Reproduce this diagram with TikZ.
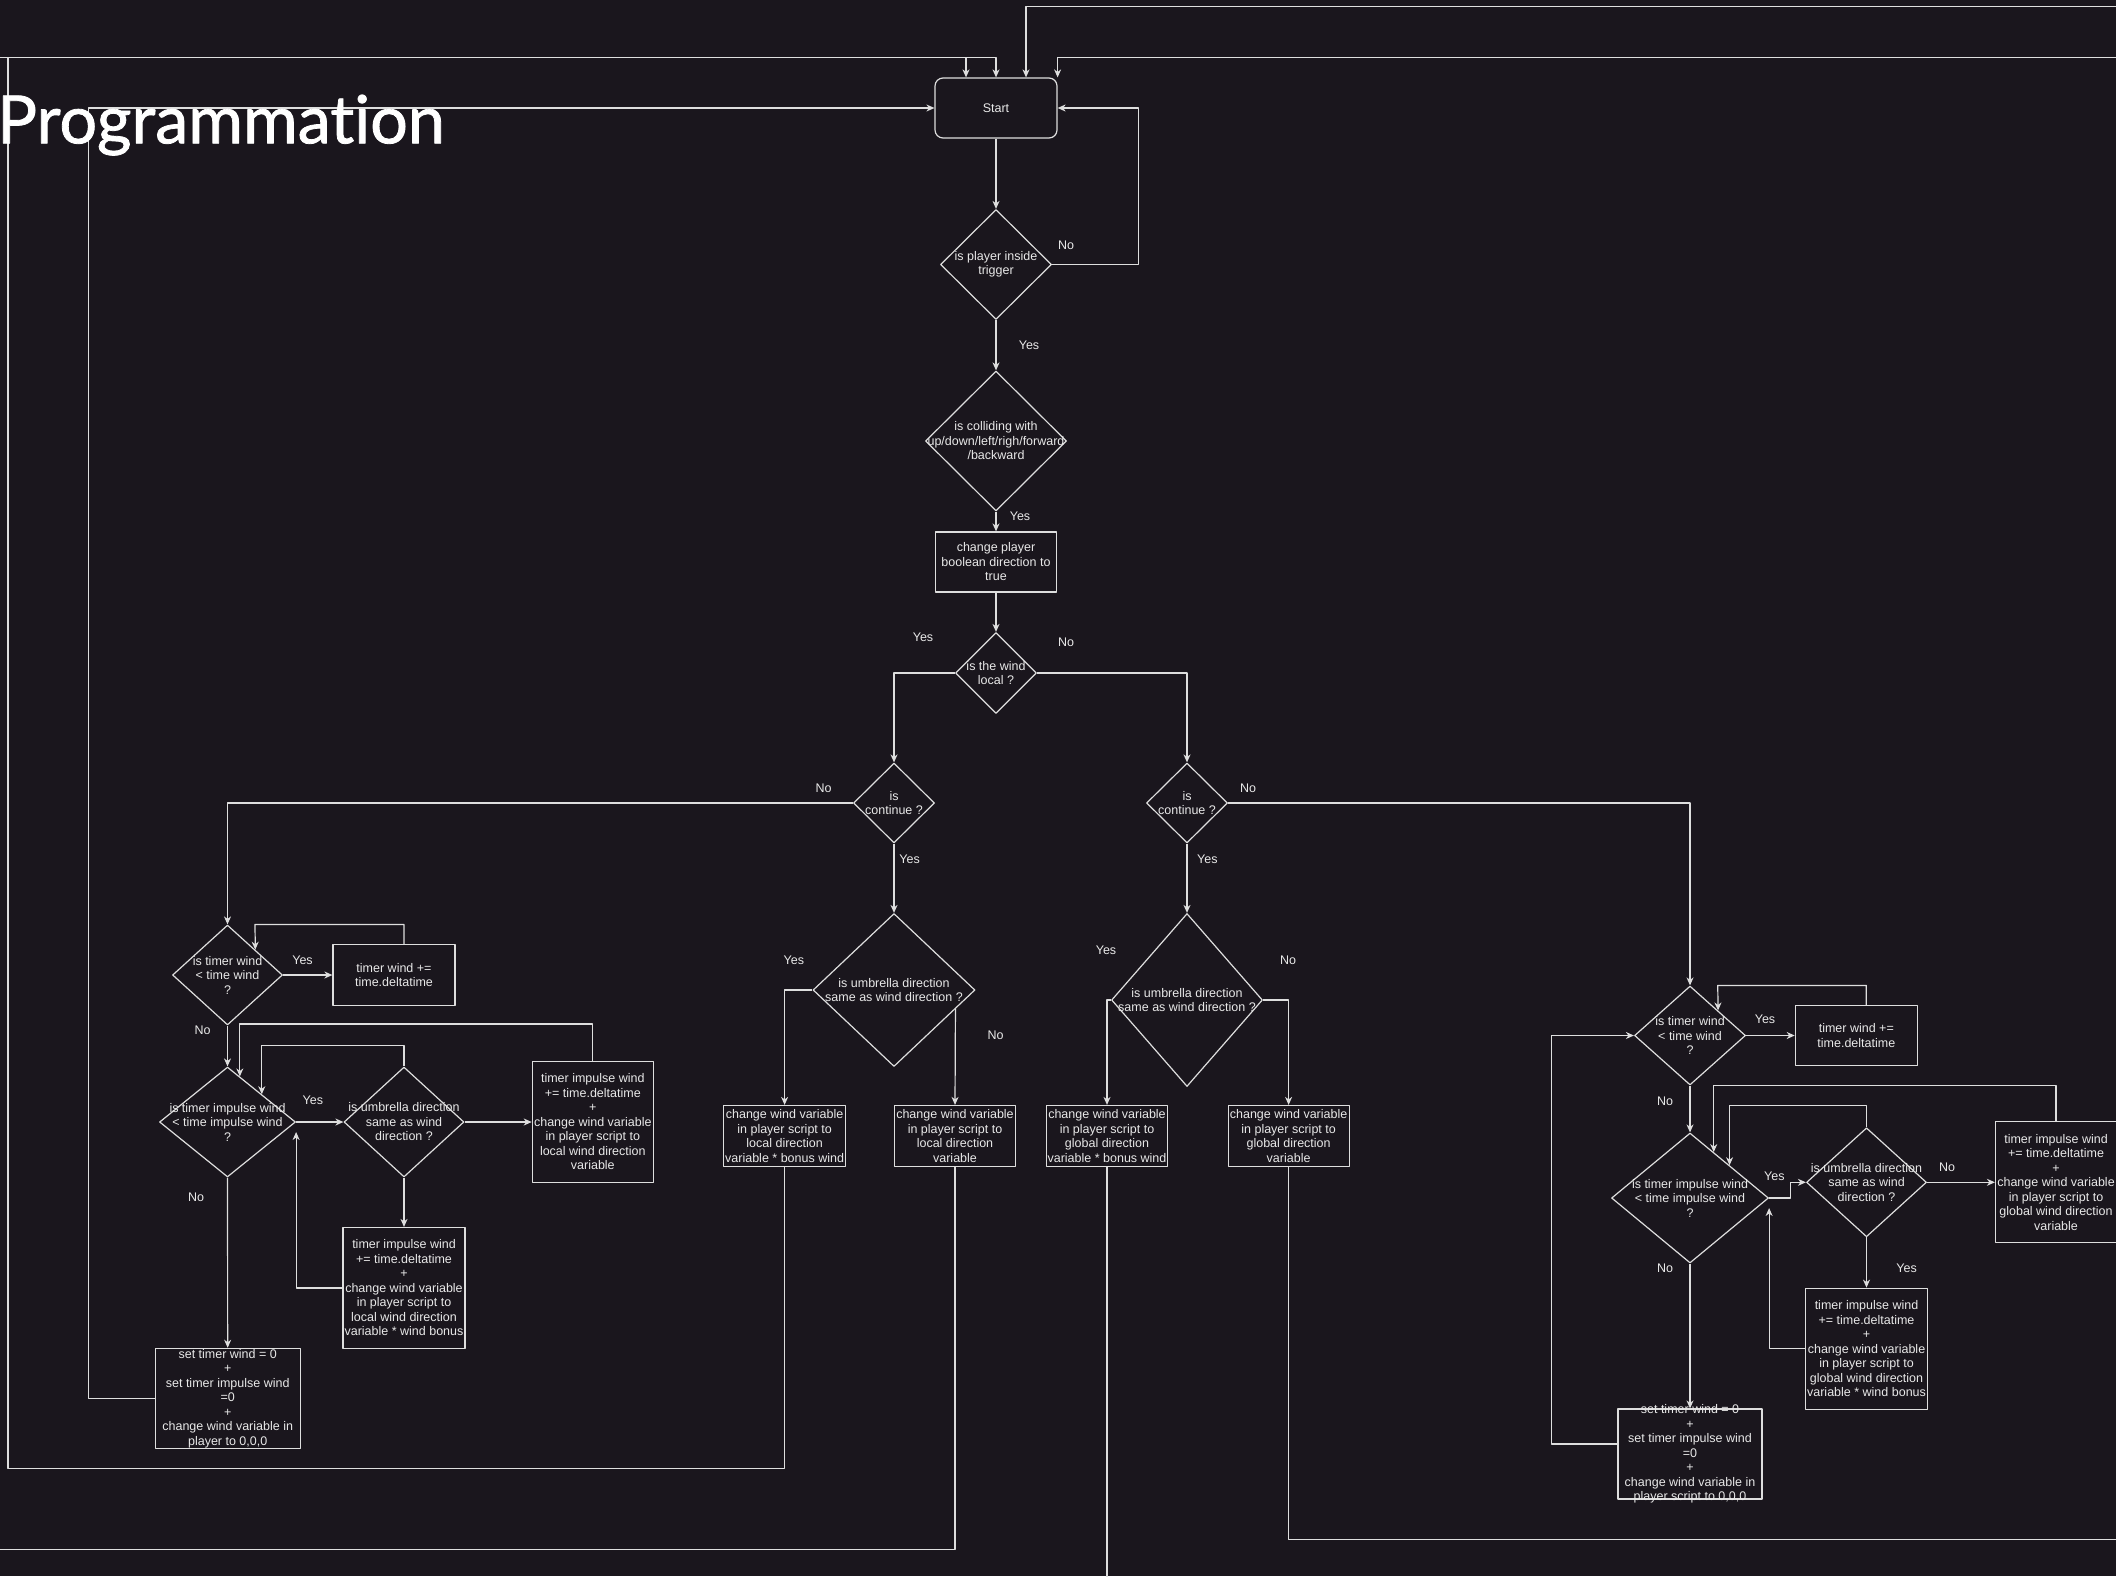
\documentclass[tikz,border=0pt]{standalone}
\usepackage{fontspec}
\setmainfont{Liberation Sans}
\newfontfamily\titlefont[Ligatures=NoCommon,FakeBold=1.2]{Lato}
\usetikzlibrary{shapes.geometric,arrows.meta,calc}
\definecolor{bgcol}{RGB}{26,22,29}
\definecolor{linecol}{RGB}{222,222,222}
\definecolor{txtcol}{RGB}{232,232,232}
\begin{document}
\begin{tikzpicture}[x=1pt,y=-1pt,line join=round,font=\fontsize{12.5}{14.5}\selectfont,text=txtcol,
  every node/.style={inner sep=0pt},
  box/.style={draw=linecol,line width=1.2pt,align=center,minimum width=121pt,minimum height=61pt},
  cond/.style={draw=linecol,line width=1.2pt,diamond},
  inside/.style={align=center,text=txtcol},
  arr/.style={draw=linecol,line width=1.2pt,-{Stealth[length=8pt,width=7pt,inset=2.5pt]}}]
\fill[bgcol](0,0) rectangle(2116,1576);
\useasboundingbox(0,0) rectangle(2116,1576);
\clip(0,0) rectangle(2116,1576);

% main column
\node[box,rounded corners=8pt,minimum width=122pt,minimum height=60pt] (start) at (996,108) {Start};
\node[cond,minimum width=111pt,minimum height=110pt,label={[inside]center:{is player inside\\trigger}}] (trigger) at (996,264.5) {};
\node[cond,minimum width=141pt,minimum height=140pt,label={[inside]center:{is colliding with\\up/down/left/righ/forward\\/backward}}] (colliding) at (996,441) {};
\node[box,minimum height=60pt] (dirtrue) at (996,562) {change player\\boolean direction to\\true};
\node[cond,minimum width=81pt,minimum height=81pt,label={[inside]center:{is the wind\\local ?}}] (windlocal) at (996,673) {};
\node[cond,minimum width=81pt,minimum height=80pt,label={[inside]center:{is\\continue ?}}] (contL) at (894,803) {};
\node[cond,minimum width=81pt,minimum height=80pt,label={[inside]center:{is\\continue ?}}] (contR) at (1187,803) {};
\node[cond,minimum width=162pt,minimum height=153pt,label={[inside]center:{is umbrella direction\\same as wind direction ?}}] (umbL) at (894,990) {};
\node[cond,minimum width=151pt,minimum height=173pt,label={[inside]center:{is umbrella direction\\same as wind direction ?}}] (umbR) at (1187,1000) {};
\node[box,minimum width=122pt] (bonusL) at (784.6,1136) {change wind variable\\in player script to\\local direction\\variable * bonus wind};
\node[box] (plainL) at (955,1136) {change wind variable\\in player script to\\local direction\\variable};
\node[box] (bonusR) at (1107,1136) {change wind variable\\in player script to\\global direction\\variable * bonus wind};
\node[box] (plainR) at (1288.6,1136) {change wind variable\\in player script to\\global direction\\variable};

% left timers
\node[cond,minimum width=110pt,minimum height=100pt,label={[inside]center:{is timer wind\\< time wind\\?}}] (timerL) at (227.5,975) {};
\node[box,minimum width=122pt] (incL) at (394,975) {timer wind +=\\time.deltatime};
\node[cond,minimum width=136pt,minimum height=110pt,label={[inside]center:{is timer impulse wind\\< time impulse wind\\?}}] (impulseL) at (227.5,1122) {};
\node[cond,minimum width=120pt,minimum height=110pt,label={[inside]center:{is umbrella direction\\same as wind\\direction ?}}] (sameL) at (404,1122) {};
\node[box,minimum height=121pt] (impL) at (592.8,1122) {timer impulse wind\\+= time.deltatime\\+\\change wind variable\\in player script to\\local wind direction\\variable};
\node[box,minimum width=122pt,minimum height=121pt] (impLbonus) at (404,1288) {timer impulse wind\\+= time.deltatime\\+\\change wind variable\\in player script to\\local wind direction\\variable * wind bonus};
\node[box,minimum width=145pt,minimum height=100pt,label={[inside]center:{set timer wind = 0\\+\\set timer impulse wind\\=0\\+\\change wind variable in\\player to 0,0,0}}] (resetL) at (227.7,1398.3) {};

% right timers
\node[cond,minimum width=111pt,minimum height=99pt,label={[inside]center:{is timer wind\\< time wind\\?}}] (timerR) at (1690,1035.5) {};
\node[box,minimum width=122pt,minimum height=60pt] (incR) at (1856.3,1035.5) {timer wind +=\\time.deltatime};
\node[cond,minimum width=157pt,minimum height=130pt,label={[inside]center:{is timer impulse wind\\< time impulse wind\\?}}] (impulseR) at (1690,1198) {};
\node[cond,minimum width=120pt,minimum height=109pt,label={[inside]center:{is umbrella direction\\same as wind\\direction ?}}] (sameR) at (1866.5,1182.3) {};
\node[box,minimum height=121pt] (impR) at (2056,1182.3) {timer impulse wind\\+= time.deltatime\\+\\change wind variable\\in player script to\\global wind direction\\variable};
\node[box,minimum width=122pt,minimum height=121pt] (impRbonus) at (1866.5,1348.7) {timer impulse wind\\+= time.deltatime\\+\\change wind variable\\in player script to\\global wind direction\\variable * wind bonus};
\node[box,minimum width=144pt,minimum height=90pt,label={[inside]center:{set timer wind = 0\\+\\set timer impulse wind\\=0\\+\\change wind variable in\\player script to 0,0,0}}] (resetR) at (1690,1454) {};

% yes / no
\node (y1) at (1029,345) {Yes};
\node (y2) at (1020,516) {Yes};
\node (y3) at (923,637.5) {Yes};
\node (y4) at (909.6,859.3) {Yes};
\node (y5) at (1207.3,859.3) {Yes};
\node (y6) at (793.8,960) {Yes};
\node (y7) at (1106,950) {Yes};
\node (y8) at (302.5,960) {Yes};
\node (y9) at (312.9,1100.7) {Yes};
\node (y10) at (1765,1019.3) {Yes};
\node (y11) at (1774.4,1176.7) {Yes};
\node (y12) at (1906.6,1268.3) {Yes};
\node (n1) at (1066,245.6) {No};
\node (n2) at (1066,642) {No};
\node (n3) at (823.5,788.7) {No};
\node (n4) at (1248,788.7) {No};
\node (n5) at (995.5,1035) {No};
\node (n6) at (1288,960) {No};
\node (n7) at (202.5,1030.7) {No};
\node (n8) at (196,1197.7) {No};
\node (n9) at (1665,1101) {No};
\node (n10) at (1665,1268.3) {No};
\node (n11) at (1947,1167.3) {No};

\draw[arr](start)--(trigger);
\draw[arr](trigger)--(colliding);
\draw[arr](colliding)--(dirtrue);
\draw[arr](dirtrue)--(windlocal);
\draw[arr](trigger.east)--++(86,0)|-(start.east);
\draw[arr](windlocal.west)-|(contL.north);
\draw[arr](windlocal.east)-|(contR.north);
\draw[arr](contL)--(umbL);
\draw[arr](contR)--(umbR);
\draw[arr](umbL.west)-|(bonusL.north);
\draw[arr]($(umbL.east)!0.247!(umbL.south)$)--(plainL.north);
\draw[arr](umbR.west)-|(bonusR.north);
\draw[arr](umbR.east)-|(plainR.north);
\draw[arr](contL.west)-|(timerL.north);
\draw[arr](contR.east)-|(timerR.north);

\draw[arr](timerL)--(incL);
\draw[arr]([xshift=10pt]incL.north)|-([xshift=27.5pt]timerL.north)--($(timerL.north)!0.5!(timerL.east)$);
\draw[arr](timerL)--(impulseL);
\draw[arr](impulseL)--(sameL);
\draw[arr](sameL)--(impL);
\draw[arr](sameL)--(impLbonus);
\draw[arr](impL.north)--++(0,-37)-|($(impulseL.north)!0.18!(impulseL.east)$);
\draw[arr](sameL.north)--++(0,-21)-|($(impulseL.north)!0.5!(impulseL.east)$);
\draw[arr](impLbonus.west)-|([yshift=-10pt]impulseL.east);
\draw[arr](impulseL)--(resetL);
\draw[arr](resetL.west)--++(-66,0)|-(start.west);

\draw[arr](timerR)--(incR);
\draw[arr]([xshift=10pt]incR.north)|-([xshift=27.75pt]timerR.north)--($(timerR.north)!0.5!(timerR.east)$);
\draw[arr](timerR)--(impulseR);
\draw[arr](impulseR.east)--++(21.3,0)|-(sameR.west);
\draw[arr](sameR)--(impR);
\draw[arr](sameR)--(impRbonus);
\draw[arr](impR.north)--++(0,-36)-|($(impulseR.north)!0.3!(impulseR.east)$);
\draw[arr](sameR.north)--++(0,-22)-|($(impulseR.north)!0.5!(impulseR.east)$);
\draw[arr](impRbonus.west)-|([yshift=-10pt]impulseR.east);
\draw[arr](impulseR)--(resetR);
\draw[arr]([yshift=10pt]resetR.west)--++(-66.2,0)|-(timerR.west);

% back to start
\draw[arr](bonusL.south)--++(0,301.5)-|(8,57.7)-|([xshift=-30pt]start.north);
\draw[arr](plainL.south)--++(0,382.5)-|(-20,57.7)-|(start.north);
\draw[arr](bonusR.south)--++(0,460)-|(2140,6.7)-|([xshift=30pt]start.north);
\draw[arr](plainR.south)--++(0,372)-|(2130,57.7)-|(start.north east);

\node[font=\titlefont\fontsize{66.5}{72}\selectfont,text=white,anchor=base west] (title) at (-3,143.3) {Programmation};
\end{tikzpicture}
\end{document}
